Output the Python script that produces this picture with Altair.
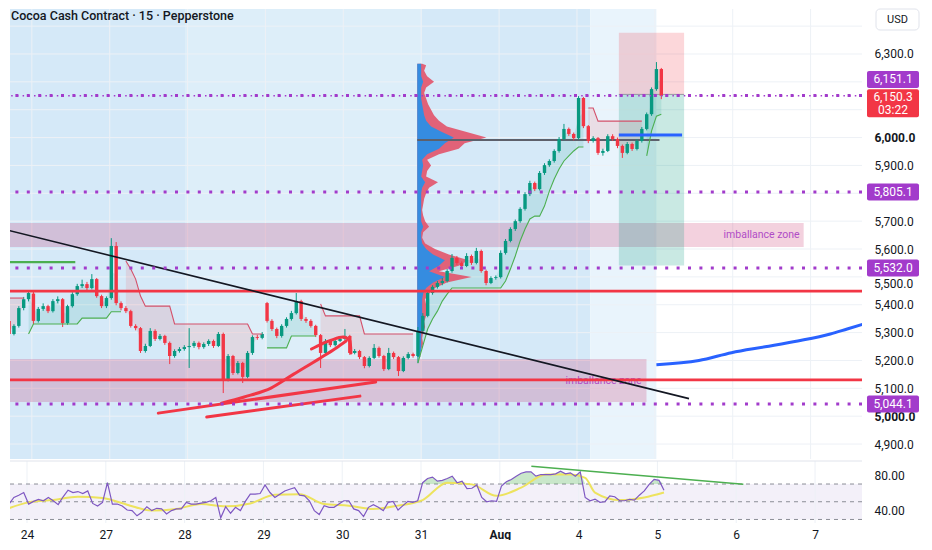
import altair as alt
import pandas as pd
import numpy as np

# ---------------- data ----------------
date_labels = ["24", "27", "28", "29", "30", "31", "Aug", "4", "5", "6", "7"]
date_pos = list(range(11))

T0 = -0.2919   # position of first candle (day columns)
DT = 0.0625    # candle spacing (day columns)

opens = [5342, 5295, 5324, 5388, 5420, 5440, 5342, 5385, 5395, 5377,
         5413, 5420, 5334, 5395, 5438, 5467, 5474, 5460, 5492, 5431,
         5395, 5424, 5611, 5406, 5388, 5377, 5324, 5316, 5234, 5252,
         5306, 5277, 5288, 5263, 5216, 5234, 5241, 5248, 5252, 5263,
         5248, 5259, 5270, 5252, 5295, 5133, 5216, 5155, 5191, 5141,
         5227, 5284, 5281, 5406, 5342, 5313, 5288, 5324, 5349, 5370,
         5413, 5349, 5342, 5324, 5291, 5227, 5270, 5255, 5270, 5277,
         5288, 5227, 5234, 5212, 5180, 5209, 5245, 5216, 5169, 5227,
         5212, 5162, 5209, 5223, 5216, 5306, 5360, 5442, 5464, 5478,
         5485, 5521, 5568, 5550, 5539, 5575, 5550, 5593, 5521, 5478,
         5496, 5499, 5586, 5629, 5672, 5700, 5744, 5797, 5837, 5815,
         5873, 5901, 5916, 5952, 5995, 6031, 6013, 5998, 6142, 6041,
         5988, 5998, 5945, 5952, 6005, 5995, 5970, 5945, 5977, 5959,
         5988, 6031, 6084, 6174, 6246]
closes = [5295, 5324, 5388, 5420, 5442, 5342, 5385, 5395, 5377, 5413,
          5420, 5334, 5395, 5438, 5467, 5474, 5460, 5492, 5431, 5395,
          5424, 5611, 5406, 5388, 5377, 5324, 5316, 5234, 5252, 5306,
          5277, 5288, 5263, 5216, 5234, 5241, 5248, 5252, 5263, 5248,
          5259, 5270, 5252, 5295, 5133, 5216, 5155, 5191, 5141, 5227,
          5284, 5281, 5295, 5342, 5313, 5288, 5324, 5349, 5370, 5413,
          5349, 5342, 5324, 5291, 5227, 5270, 5255, 5270, 5277, 5288,
          5227, 5234, 5212, 5180, 5209, 5245, 5216, 5169, 5227, 5212,
          5162, 5209, 5223, 5216, 5306, 5360, 5442, 5464, 5478, 5485,
          5521, 5568, 5550, 5539, 5575, 5550, 5593, 5521, 5478, 5496,
          5499, 5586, 5629, 5672, 5700, 5744, 5797, 5837, 5815, 5873,
          5901, 5916, 5952, 5995, 6031, 6013, 5998, 6142, 6041, 5988,
          5998, 5945, 5952, 6005, 5995, 5970, 5945, 5977, 5959, 5988,
          6031, 6084, 6174, 6246, 6150]
highs = [5350, 5330, 5395, 5428, 5452, 5446, 5392, 5405, 5400, 5420,
         5430, 5424, 5400, 5445, 5475, 5490, 5482, 5510, 5496, 5436,
         5430, 5639, 5625, 5412, 5395, 5382, 5330, 5320, 5260, 5316,
         5312, 5295, 5292, 5268, 5240, 5248, 5255, 5316, 5270, 5268,
         5265, 5276, 5275, 5302, 5300, 5223, 5220, 5198, 5195, 5234,
         5290, 5292, 5302, 5410, 5348, 5318, 5330, 5355, 5378, 5442,
         5418, 5356, 5348, 5328, 5295, 5277, 5274, 5277, 5285, 5313,
         5292, 5241, 5238, 5216, 5215, 5259, 5250, 5220, 5245, 5232,
         5216, 5215, 5230, 5228, 5320, 5370, 5450, 5470, 5485, 5496,
         5528, 5582, 5575, 5556, 5585, 5580, 5604, 5598, 5526, 5502,
         5505, 5595, 5636, 5678, 5706, 5750, 5804, 5845, 5842, 5880,
         5908, 5922, 5958, 6002, 6049, 6036, 6018, 6149, 6146, 6045,
         6005, 6002, 5960, 6012, 6012, 6000, 5975, 5984, 5982, 5994,
         6038, 6090, 6180, 6271, 6250]
lows = [5285, 5290, 5318, 5380, 5412, 5330, 5336, 5378, 5370, 5372,
        5405, 5320, 5328, 5390, 5432, 5460, 5452, 5455, 5425, 5388,
        5388, 5418, 5398, 5380, 5370, 5318, 5308, 5227, 5228, 5248,
        5270, 5272, 5256, 5187, 5210, 5228, 5235, 5173, 5245, 5240,
        5242, 5252, 5245, 5248, 5083, 5125, 5148, 5150, 5119, 5136,
        5220, 5274, 5276, 5336, 5306, 5280, 5282, 5318, 5343, 5365,
        5342, 5335, 5318, 5284, 5173, 5220, 5248, 5250, 5266, 5272,
        5220, 5222, 5205, 5172, 5175, 5205, 5210, 5162, 5165, 5205,
        5144, 5158, 5204, 5210, 5190, 5300, 5355, 5436, 5458, 5470,
        5480, 5515, 5543, 5532, 5535, 5543, 5545, 5515, 5470, 5474,
        5490, 5494, 5580, 5624, 5665, 5694, 5738, 5790, 5808, 5810,
        5866, 5895, 5910, 5946, 5990, 6006, 5990, 5992, 6034, 5980,
        5982, 5938, 5935, 5948, 5988, 5962, 5927, 5940, 5952, 5954,
        5982, 6026, 6078, 6168, 6138]

# trailing-stop (supertrend) level and direction per candle
st_vals = [5424, 5424, 5424, 5424, 5295, 5331, 5331, 5331, 5331, 5331,
           5331, 5331, 5331, 5331, 5331, 5352, 5352, 5352, 5352, 5352,
           5352, 5375, 5375, 5375, 5557, 5528, 5492, 5431, 5395, 5395,
           5395, 5395, 5395, 5395, 5331, 5331, 5331, 5331, 5331, 5331,
           5331, 5331, 5331, 5331, 5331, 5331, 5331, 5331, 5331, 5331,
           5295, 5295, 5295, 5245, 5245, 5245, 5245, 5245, 5288, 5288,
           5288, 5288, 5288, 5288, 5403, 5360, 5360, 5360, 5360, 5360,
           5360, 5360, 5360, 5295, 5295, 5295, 5295, 5295, 5295, 5295,
           5295, 5295, 5295, 5295, 5191, 5252, 5313, 5349, 5377, 5413,
           5438, 5460, 5460, 5460, 5460, 5460, 5460, 5460, 5460, 5460,
           5460, 5460, 5485, 5528, 5575, 5629, 5672, 5708, 5718, 5718,
           5754, 5808, 5851, 5887, 5916, 5934, 5952, 5966, 5966, 6106,
           6106, 6059, 6059, 6059, 6059, 6059, 6059, 6059, 6059, 6059,
           6059, 5934, 6024, 6077, 6084]
st_dir = [-1, -1, -1, -1, 1, 1, 1, 1, 1, 1,
          1, 1, 1, 1, 1, 1, 1, 1, 1, 1,
          1, 1, 1, 1, -1, -1, -1, -1, -1, -1,
          -1, -1, -1, -1, -1, -1, -1, -1, -1, -1,
          -1, -1, -1, -1, -1, -1, -1, -1, -1, -1,
          -1, -1, -1, 1, 1, 1, 1, 1, 1, 1,
          1, 1, 1, 1, -1, -1, -1, -1, -1, -1,
          -1, -1, -1, -1, -1, -1, -1, -1, -1, -1,
          -1, -1, -1, -1, 1, 1, 1, 1, 1, 1,
          1, 1, 1, 1, 1, 1, 1, 1, 1, 1,
          1, 1, 1, 1, 1, 1, 1, 1, 1, 1,
          1, 1, 1, 1, 1, 1, 1, 1, 1, -1,
          -1, -1, -1, -1, -1, -1, -1, -1, -1, -1,
          -1, 1, 1, 1, 1]

rsi_vals = [41.9, 47.4, 54.8, 57.4, 60.4, 47.4, 50.4, 52.6, 51.1, 54.8,
            51.1, 46.7, 55.6, 63.0, 60.4, 61.5, 59.3, 62.2, 48.1, 45.2,
            49.3, 71.5, 47.4, 47.4, 45.2, 40.7, 40.0, 34.1, 38.1, 44.4,
            40.0, 42.6, 41.9, 36.3, 40.0, 41.9, 41.9, 49.3, 47.4, 47.4,
            48.5, 49.3, 51.1, 54.8, 31.9, 44.4, 37.0, 43.7, 40.0, 50.4,
            58.5, 58.5, 59.3, 68.9, 60.4, 54.8, 58.5, 62.2, 64.1, 65.9,
            57.4, 56.7, 51.1, 40.0, 35.6, 45.6, 43.7, 43.7, 47.4, 51.1,
            51.1, 41.9, 40.0, 33.3, 43.7, 46.7, 43.7, 40.0, 49.3, 50.4,
            40.7, 45.6, 50.4, 49.3, 51.1, 71.5, 76.3, 77.8, 73.3, 74.1,
            76.3, 78.9, 71.5, 73.3, 64.8, 65.2, 68.9, 54.8, 50.0, 51.1,
            50.4, 67.8, 72.6, 75.2, 78.9, 82.2, 83.7, 83.7, 78.9, 80.7,
            80.7, 80.7, 81.5, 84.4, 81.5, 82.6, 78.9, 83.7, 54.8, 51.1,
            53.0, 49.3, 50.0, 56.7, 55.6, 51.1, 51.1, 52.6, 51.9, 57.4,
            62.2, 69.6, 75.2, 74.1, 63.0]
ma_idx = [0, 5, 10, 15, 20, 25, 30, 35, 40, 45, 50, 55, 60, 65, 70, 75, 80,
          85, 90, 95, 100, 105, 110, 115, 118, 120, 125, 130, 134]
ma_vals = [40.7, 49.3, 51.9, 55.6, 54.1, 46.7, 40.0, 41.9, 47.4, 44.8, 48.1,
           57.8, 58.5, 47.4, 45.6, 41.9, 45.6, 51.9, 71.5, 69.6, 56.7, 65.9,
           80.7, 80.7, 77.0, 60.4, 51.9, 54.8, 60.4]
rsi_levels = [70, 50, 30]
rsi_trend_t = [6.40, 9.09]
rsi_trend_v = [90.0, 69.7]

# volume profile (anchored at the 31st)
vp_anchor = 4.949
vp_price = [6265, 6260, 6240, 6220, 6200, 6180, 6160, 6140, 6120, 6100, 6080,
            6060, 6040, 6020, 6000, 5980, 5960, 5940, 5920, 5900, 5880,
            5860, 5840, 5820, 5800, 5780, 5760, 5740, 5720, 5700, 5680,
            5660, 5640, 5620, 5600, 5580, 5560, 5540, 5520, 5500, 5480,
            5460, 5440, 5420, 5400, 5380, 5360, 5340, 5320, 5300, 5280,
            5260, 5240, 5220, 5212]
vp_total = [5, 9, 7, 10, 17, 9, 7, 9, 11, 14, 17,
            22, 30, 50, 70, 48, 42, 22, 10, 14, 10,
            9, 21, 12, 9, 7, 6, 5, 6, 8, 12,
            6, 5, 8, 18, 32, 52, 42, 22, 55, 30,
            18, 12, 8, 9, 11, 9, 7, 8, 6, 5,
            6, 4, 3, 3]
vp_up = [4, 4, 4, 4, 6, 4, 4, 4, 5, 6, 7,
         9, 14, 25, 37, 28, 22, 10, 5, 6, 5,
         4, 8, 5, 4, 4, 4, 4, 4, 4, 6,
         4, 4, 5, 9, 16, 28, 22, 12, 28, 16,
         9, 6, 5, 5, 5, 5, 4, 4, 4, 4,
         4, 4, 3, 3]
poc_price = 5991
poc_t = [4.949, 8.06]

dotted_levels = [6151.1, 5805.1, 5532.0, 5044.1]
last_price = 6150.3
last_timer = "03:22"
red_levels = [5449, 5130]

zone_t1 = [-0.32, -0.32]
zone_t2 = [9.911, 7.893]
zone_lo = [5607, 5051]
zone_hi = [5693, 5205]
zone_label = ["imballance zone", "imballance zone"]
zone_label_t = [9.86, 7.83]
zone_label_p = [5650, 5126]

pos_t = [7.538, 8.376]
pos_stop = 6376
pos_entry = 6155
pos_target = 5541

trend_t = [-0.317, 8.439]
trend_p = [5668, 5063]
green_t = [-0.317, 0.558]
green_p = 5553
blue_short_t = [7.538, 8.350]
blue_short_p = 6009
blue_curve_t = [8.020, 8.566, 8.985, 9.416, 9.835, 10.254, 10.47, 10.72]
blue_curve_p = [5185, 5200, 5228, 5249, 5270, 5295, 5313, 5334]

draw1_t = [1.624, 4.416]
draw1_p = [5011, 5123]
draw2_t = [2.246, 4.213]
draw2_p = [4997, 5072]
draw3_t = [2.437, 2.728, 3.071, 3.363, 3.706, 3.909, 4.036]
draw3_p = [5047, 5069, 5101, 5151, 5209, 5245, 5270]
draw4_t = [3.591, 3.718, 3.845, 3.997, 4.086, 4.099]
draw4_p = [5241, 5259, 5273, 5284, 5270, 5227]

price_ticks = [4900, 5000, 5100, 5200, 5300, 5400, 5600, 5700, 5900, 6000, 6300]
price_tick_tucked = [5500]      # shown just below the 5,532.0 tag
price_grid = [4900, 5000, 5100, 5200, 5300, 5400, 5500, 5600, 5700, 5800,
              5900, 6000, 6100, 6200, 6300, 6400]

# ---------------- layout / style ----------------
W, H1, H2 = 852, 450, 62
XDOM = [-0.216, 10.596]
PDOM = [4846.3, 6461.5]
RDOM = [26, 96]
PPU = H1 / (PDOM[1] - PDOM[0])   # pixels per price unit
VOL_K = 1 / 78.8                  # volume units -> day columns
GREEN, RED = "#089981", "#f23645"
PURPLE = "#a23bcb"
FONT = "Roboto"

xs = alt.Scale(domain=XDOM, nice=False, zero=False)
ps = alt.Scale(domain=PDOM, nice=False, zero=False)
rs = alt.Scale(domain=RDOM, nice=False, zero=False)

price_axis = alt.Axis(orient="right", values=price_ticks, format=",.1f", ticks=False, domain=False,
                      grid=False, labelPadding=12, labelFontSize=12, labelFont=FONT,
                      labelColor="#131722", title=None,
                      labelFontWeight={"condition": {"test": "datum.value == 6000 || datum.value == 5000",
                                                     "value": "bold"}, "value": "normal"})
rsi_axis = alt.Axis(orient="right", values=[40, 80], format=".2f", ticks=False, domain=False, grid=False,
                    labelPadding=12, labelFontSize=12, labelFont=FONT, labelColor="#131722", title=None)
date_expr = "[" + ",".join(f"'{s}'" for s in date_labels) + "][datum.value]"
x_axis = alt.Axis(orient="bottom", values=date_pos, labelExpr=date_expr, ticks=False, domain=False,
                  grid=False, labelPadding=6, labelFontSize=12, labelFont=FONT, labelColor="#131722",
                  title=None,
                  labelFontWeight={"condition": {"test": "datum.value == 6", "value": "bold"},
                                   "value": "normal"})


def X(f):
    return alt.X(f"{f}:Q", scale=xs, axis=None)


def XR(f):
    return alt.X(f"{f}:Q", scale=xs, axis=x_axis)


def P(f):
    return alt.Y(f"{f}:Q", scale=ps, axis=price_axis)


def R(f):
    return alt.Y(f"{f}:Q", scale=rs, axis=rsi_axis)


# ---------------- price pane ----------------
n = len(closes)
cd = pd.DataFrame({"i": range(n), "o": opens, "h": highs, "l": lows, "c": closes,
                   "st": st_vals, "dir": st_dir})
cd["t"] = T0 + DT * cd["i"]
cd["col"] = np.where(cd["c"] >= cd["o"], GREEN, RED)
cd["mid"] = (cd["o"] + cd["c"]) / 2
cd["seg"] = (cd["dir"] != cd["dir"].shift()).cumsum()
cd["stcol"] = np.where(cd["dir"] > 0, "#4caf50", "#d4506a")
cd["fillcol"] = np.where(cd["dir"] > 0, GREEN, RED)

bg = pd.DataFrame({"t1": [-0.32, 1.967, 5.0, 7.17], "t2": [1.967, 5.0, 7.17, 8.02],
                   "c": ["#d5e9f8", "#ddeef9", "#d5e9f8", "#e9f4fc"]})
layers = []
layers.append(alt.Chart(bg).mark_rect(clip=True).encode(
    x=X("t1"), x2="t2", y=alt.value(0), y2=alt.value(H1), color=alt.Color("c:N", scale=None)))
layers.append(alt.Chart(pd.DataFrame({"p": price_grid})).mark_rule(color="#edf1f6", strokeWidth=1).encode(
    y=P("p")))
layers.append(alt.Chart(pd.DataFrame({"t": date_pos})).mark_rule(color="#edf1f6", strokeWidth=1).encode(
    x=X("t")))

zones = pd.DataFrame({"t1": zone_t1, "t2": zone_t2, "lo": zone_lo, "hi": zone_hi})
layers.append(alt.Chart(zones).mark_rect(clip=True, color="#c2185b", opacity=0.2).encode(
    x=X("t1"), x2="t2", y=P("lo"), y2="hi"))

zl = pd.DataFrame({"t": zone_label_t, "p": zone_label_p, "s": zone_label})
layers.append(alt.Chart(zl).mark_text(align="right", baseline="middle", fontSize=10.5, font=FONT,
                                      color="#b04cc6").encode(x=X("t"), y=P("p"), text="s:N"))

pos = pd.DataFrame({"t1": [pos_t[0]] * 2, "t2": [pos_t[1]] * 2, "lo": [pos_entry, pos_target],
                    "hi": [pos_stop, pos_entry], "c": [RED, GREEN], "op": [0.2, 0.22]})
layers.append(alt.Chart(pos).mark_rect(clip=True).encode(
    x=X("t1"), x2="t2", y=P("lo"), y2="hi", color=alt.Color("c:N", scale=None),
    opacity=alt.Opacity("op:Q", scale=None)))

layers.append(alt.Chart(cd).mark_area(clip=True, opacity=0.12).encode(
    x=X("t"), y=P("st"), y2="mid", detail="seg:N", color=alt.Color("fillcol:N", scale=None)))

vp = pd.DataFrame({"p": vp_price, "tot": vp_total, "up": vp_up}).sort_values("p")
vp["x0"] = vp_anchor
vp["xt"] = vp_anchor + vp["tot"] * VOL_K
vp["xu"] = vp_anchor + vp["up"] * VOL_K
layers.append(alt.Chart(vp).mark_area(orient="horizontal", color="#e2566c", opacity=0.92).encode(
    y=P("p"), x=X("xt"), x2="x0"))
layers.append(alt.Chart(vp).mark_area(orient="horizontal", color="#2b8ee6", opacity=0.95).encode(
    y=P("p"), x=X("xu"), x2="x0"))

layers.append(alt.Chart(pd.DataFrame({"t1": [poc_t[0]], "t2": [poc_t[1]], "p": [poc_price]}))
              .mark_rule(color="#5d606b", strokeWidth=2).encode(x=X("t1"), x2="t2", y=P("p")))
layers.append(alt.Chart(pd.DataFrame({"t1": [pos_t[0]], "t2": [pos_t[1]], "p": [pos_entry]}))
              .mark_rule(color="#9598a1", strokeWidth=1).encode(x=X("t1"), x2="t2", y=P("p")))

layers.append(alt.Chart(cd).mark_rule(clip=True, strokeWidth=1).encode(
    x=X("t"), y=P("l"), y2="h", color=alt.Color("col:N", scale=None)))
layers.append(alt.Chart(cd).mark_bar(clip=True, size=3.4).encode(
    x=X("t"), y=P("o"), y2="c", color=alt.Color("col:N", scale=None)))

layers.append(alt.Chart(cd).mark_line(clip=True, strokeWidth=1.1).encode(
    x=X("t"), y=P("st"), detail="seg:N", color=alt.Color("stcol:N", scale=None)))

layers.append(alt.Chart(pd.DataFrame({"p": red_levels})).mark_rule(color=RED, strokeWidth=2.7).encode(
    y=P("p")))

layers.append(alt.Chart(pd.DataFrame({"t": trend_t, "p": trend_p})).mark_line(
    clip=True, color="#131722", strokeWidth=1.6).encode(x=X("t"), y=P("p")))
layers.append(alt.Chart(pd.DataFrame({"t": green_t, "p": [green_p] * 2})).mark_line(
    clip=True, color="#4caf50", strokeWidth=2.2).encode(x=X("t"), y=P("p")))
layers.append(alt.Chart(pd.DataFrame({"t": blue_short_t, "p": [blue_short_p] * 2})).mark_line(
    clip=True, color="#2962ff", strokeWidth=3).encode(x=X("t"), y=P("p")))
layers.append(alt.Chart(pd.DataFrame({"t": blue_curve_t, "p": blue_curve_p})).mark_line(
    clip=True, color="#2962ff", strokeWidth=3, interpolate="monotone").encode(x=X("t"), y=P("p")))

draws = []
for k, (tt, pp) in enumerate([(draw1_t, draw1_p), (draw2_t, draw2_p), (draw3_t, draw3_p), (draw4_t, draw4_p)]):
    for j, (a, b) in enumerate(zip(tt, pp)):
        draws.append({"g": k, "o": j, "t": a, "p": b})
layers.append(alt.Chart(pd.DataFrame(draws)).mark_line(
    clip=True, color=RED, strokeWidth=3, interpolate="monotone", strokeCap="round").encode(
    x=X("t"), y=P("p"), detail="g:N", order="o:Q"))

layers.append(alt.Chart(pd.DataFrame({"p": dotted_levels})).mark_rule(
    color=PURPLE, strokeWidth=3, strokeDash=[3, 8.4]).encode(y=P("p")))
layers.append(alt.Chart(pd.DataFrame({"p": [last_price]})).mark_rule(
    color=PURPLE, strokeWidth=1.4, strokeDash=[1.5, 4.2]).encode(y=P("p")))

# title
layers.append(alt.Chart(pd.DataFrame({"s": ["Cocoa Cash Contract · 15 · Pepperstone"]})).mark_text(
    align="left", baseline="middle", fontSize=12.5, font=FONT, fontWeight=500, color="#131722").encode(
    x=alt.value(1), y=alt.value(7), text="s:N"))

# tucked price label
tk = pd.DataFrame({"p": price_tick_tucked, "s": [f"{v:,.1f}" for v in price_tick_tucked]})
layers.append(alt.Chart(tk).mark_text(align="left", baseline="middle", dy=7, fontSize=12, font=FONT,
                                      color="#131722").encode(x=alt.value(W + 12), y=P("p"), text="s:N"))

# price-scale labels
BH = 8.5 / PPU
boxes = pd.DataFrame({"p": dotted_levels})
boxes["c"] = boxes["p"]
boxes.loc[0, "c"] = dotted_levels[0] + 16 / PPU
boxes["lo"] = boxes["c"] - BH
boxes["hi"] = boxes["c"] + BH
boxes["s"] = [f"{v:,.1f}" for v in dotted_levels]
layers.append(alt.Chart(boxes).mark_rect(color=PURPLE, cornerRadius=2).encode(
    x=alt.value(W + 5), x2=alt.value(W + 57), y=P("lo"), y2="hi"))
layers.append(alt.Chart(boxes).mark_text(color="white", fontSize=12, font=FONT, baseline="middle").encode(
    x=alt.value(W + 31), y=P("c"), text="s:N"))
lp = pd.DataFrame({"lo": [last_price - 21.5 / PPU], "hi": [last_price + 6.5 / PPU]})
layers.append(alt.Chart(lp).mark_rect(color=RED, cornerRadius=2).encode(
    x=alt.value(W + 5), x2=alt.value(W + 57), y=P("lo"), y2="hi"))
lpt = pd.DataFrame({"p": [last_price - 1.5 / PPU, last_price - 14.5 / PPU],
                    "s": [f"{last_price:,.1f}", last_timer]})
layers.append(alt.Chart(lpt).mark_text(color="white", fontSize=12, font=FONT, baseline="middle").encode(
    x=alt.value(W + 31), y=P("p"), text="s:N"))

# currency box
usd = pd.DataFrame({"lo": [PDOM[1] - 21 / PPU], "hi": [PDOM[1]], "c": [PDOM[1] - 10.5 / PPU], "s": ["USD"]})
layers.append(alt.Chart(usd).mark_rect(fill="white", stroke="#e0e3eb", cornerRadius=4).encode(
    x=alt.value(W + 14), x2=alt.value(W + 57), y=P("lo"), y2="hi"))
layers.append(alt.Chart(usd).mark_text(fontSize=11, font=FONT, color="#131722", baseline="middle").encode(
    x=alt.value(W + 35.5), y=P("c"), text="s:N"))

price = alt.layer(*layers).properties(width=W, height=H1)

# ---------------- RSI pane ----------------
rd = pd.DataFrame({"i": range(n), "r": rsi_vals})
rd["t"] = T0 + DT * rd["i"]
rd["ob"] = np.maximum(rd["r"], 70)
rd["l70"] = 70
md = pd.DataFrame({"i": ma_idx, "m": ma_vals})
md["t"] = T0 + DT * md["i"]

rl = []
band = pd.DataFrame({"t1": [XDOM[0]], "t2": [XDOM[1]], "lo": [30], "hi": [70]})
rl.append(alt.Chart(band).mark_rect(color="#7e57c2", opacity=0.09).encode(
    x=XR("t1"), x2="t2", y=R("lo"), y2="hi"))
rl.append(alt.Chart(pd.DataFrame({"t": date_pos})).mark_rule(color="#edf1f6").encode(x=XR("t")))
rl.append(alt.Chart(pd.DataFrame({"v": rsi_levels})).mark_rule(
    color="#8b8e97", strokeDash=[4, 4], strokeWidth=1).encode(y=R("v")))
rl.append(alt.Chart(rd).mark_area(clip=True, color="#4caf50", opacity=0.3).encode(
    x=XR("t"), y=R("ob"), y2="l70"))
rl.append(alt.Chart(md).mark_line(clip=True, color="#ede35e", strokeWidth=2, interpolate="monotone").encode(
    x=XR("t"), y=R("m")))
rl.append(alt.Chart(rd).mark_line(clip=True, color="#7e57c2", strokeWidth=1.2).encode(
    x=XR("t"), y=R("r")))
rl.append(alt.Chart(pd.DataFrame({"t": rsi_trend_t, "v": rsi_trend_v})).mark_line(
    clip=True, color="#4caf50", strokeWidth=1.6).encode(x=XR("t"), y=R("v")))
rl.append(alt.Chart(pd.DataFrame({"v": [RDOM[1]]})).mark_rule(color="#e0e3eb").encode(y=R("v")))

rsi = alt.layer(*rl).properties(width=W, height=H2)

chart = alt.vconcat(price, rsi, spacing=0).properties(padding=0)
chart = chart.configure(background="white").configure_view(stroke=None)
chart.save("out.html", embed_options={"renderer": "svg", "actions": False})
